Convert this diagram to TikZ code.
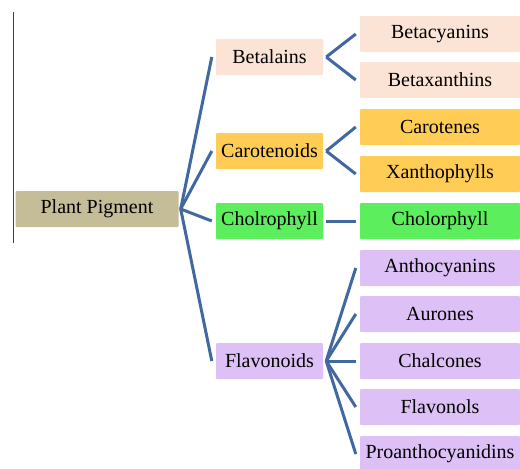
\documentclass[tikz,border=0pt]{standalone}
\usepackage{fontspec}
\setmainfont{Liberation Serif}
\usetikzlibrary{positioning}

\definecolor{tanbox}{RGB}{196,189,151}
\definecolor{peachbox}{RGB}{251,228,214}
\definecolor{goldbox}{RGB}{255,205,85}
\definecolor{greenbox}{RGB}{92,238,92}
\definecolor{lilacbox}{RGB}{221,192,246}
\definecolor{branch}{RGB}{66,104,162}

\begin{document}
\begin{tikzpicture}[x=1pt,y=-1pt,
  box/.style={rectangle,rounded corners=1pt,minimum height=36pt,inner sep=0pt,
    font=\fontsize{20}{23}\selectfont},
  rootbox/.style={box,fill=tanbox,minimum width=163pt},
  midbox/.style={box,minimum width=107pt},
  leafbox/.style={box,minimum width=160pt},
  link/.style={branch,line width=3pt}]
  \useasboundingbox (0,0) rectangle (520,469);
  % stray rule on the left
  \draw[black!75,line width=0.8pt] (13,12)--(13,243);
  % root
  \node[rootbox] (pp) at (97,209) {Plant Pigment};
  % first level
  \node[midbox,fill=peachbox] (bet) at (269.5,57) {Betalains};
  \node[midbox,fill=goldbox] (car) at (269.5,151) {Carotenoids};
  \node[midbox,fill=greenbox] (chl) at (269.5,221) {Cholrophyll};
  \node[midbox,fill=lilacbox] (fla) at (269.5,361) {Flavonoids};
  % second level
  \node[leafbox,fill=peachbox] (bcy) at (440,34) {Betacyanins};
  \node[leafbox,fill=peachbox] (bxa) at (440,80) {Betaxanthins};
  \node[leafbox,fill=goldbox] (cte) at (440,127) {Carotenes};
  \node[leafbox,fill=goldbox] (xan) at (440,174) {Xanthophylls};
  \node[leafbox,fill=greenbox] (chp) at (440,221) {Cholorphyll};
  \node[leafbox,fill=lilacbox] (ant) at (440,268) {Anthocyanins};
  \node[leafbox,fill=lilacbox] (aur) at (440,314) {Aurones};
  \node[leafbox,fill=lilacbox] (cha) at (440,361) {Chalcones};
  \node[leafbox,fill=lilacbox] (flo) at (440,407) {Flavonols};
  \node[leafbox,fill=lilacbox] (pro) at (440,454) {Proanthocyanidins};
  % branches from the root
  \foreach \kid in {bet,car,chl,fla}
     \draw[link] ([xshift=2pt]pp.east) -- ([xshift=-4pt]\kid.west);
  % branches to the leaves
  \foreach \up/\kid in {bet/bcy,bet/bxa,car/cte,car/xan,chl/chp,
                        fla/ant,fla/aur,fla/cha,fla/flo,fla/pro}
     \draw[link] ([xshift=3pt]\up.east) -- ([xshift=-4pt]\kid.west);
\end{tikzpicture}
\end{document}
